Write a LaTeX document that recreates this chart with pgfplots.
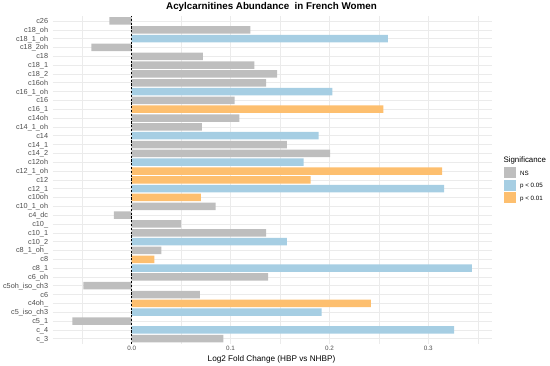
\documentclass[border=0pt]{standalone}
\usepackage{pgfplots}
\pgfplotsset{compat=1.18}
\usepackage{fontspec}
\setmainfont{Liberation Sans}
\definecolor{nsgray}{HTML}{BEBEBE}
\definecolor{pblue}{HTML}{A6CEE3}
\definecolor{porange}{HTML}{FDBF6F}
\definecolor{gridc}{HTML}{EBEBEB}
\definecolor{txtgray}{HTML}{4D4D4D}
\begin{document}
\begin{tikzpicture}
\path[use as bounding box] (0,0) rectangle (550pt,366pt);
\begin{axis}[
  at={(52.7pt,22pt)}, anchor=south west,
  scale only axis, width=439pt, height=328.3pt,
  xmin=-0.0799, xmax=0.3641, ymin=0.4, ymax=37.6,
  axis line style={draw=none},
  major tick length=0pt, minor tick length=0pt,
  xtick={0,0.1,0.2,0.3}, xticklabels={0.0,0.1,0.2,0.3},
  minor xtick={-0.05,0.05,0.15,0.25,0.35},
  ytick={1,...,37},
  yticklabels={c\_3,c\_4,c5\_1,c5\_iso\_ch3,c4oh\_,c6,c5oh\_iso\_ch3,c6\_oh,c8\_1,c8,c8\_1\_oh\_,c10\_2,c10\_1,c10\_,c4\_dc,c10\_1\_oh,c10oh,c12\_1,c12,c12\_1\_oh,c12oh,c14\_2,c14\_1,c14,c14\_1\_oh,c14oh,c16\_1,c16,c16\_1\_oh,c16oh,c18\_2,c18\_1,c18,c18\_2oh,c18\_1\_oh,c18\_oh,c26},
  xmajorgrids, ymajorgrids, xminorgrids,
  major grid style={gridc, line width=0.55pt},
  minor grid style={gridc, line width=0.3pt},
  yticklabel style={font=\fontsize{7.3}{8}\selectfont, text=txtgray, anchor=base east, inner sep=0pt, xshift=-4.4pt, yshift=-2.5pt},
  xticklabel style={font=\fontsize{6.3}{7}\selectfont, text=txtgray, anchor=base, inner sep=0pt, yshift=-6.75pt},
]
% NS
\addplot[xbar, bar width=0.85, bar shift=0pt, fill=nsgray, draw=none] coordinates {
(-0.0225,37) (0.120,36) (-0.0407,34) (0.072,33) (0.124,32) (0.147,31) (0.136,30)
(0.104,28) (0.109,26) (0.071,25) (0.157,23) (0.2006,22) (0.085,16) (-0.018,15)
(0.050,14) (0.136,13) (0.030,11) (0.138,8) (-0.049,7) (0.069,6) (-0.060,3) (0.0926,1)
};
% p < 0.05
\addplot[xbar, bar width=0.85, bar shift=0pt, fill=pblue, draw=none] coordinates {
(0.259,35) (0.203,29) (0.189,24) (0.174,21) (0.316,18) (0.157,12) (0.344,9) (0.192,4) (0.326,2)
};
% p < 0.01
\addplot[xbar, bar width=0.85, bar shift=0pt, fill=porange, draw=none] coordinates {
(0.2545,27) (0.314,20) (0.181,19) (0.070,17) (0.023,10) (0.242,5)
};
\addplot[black, line width=0.6pt, dash pattern=on 2.2pt off 1.6pt] coordinates {(0,0.4) (0,37.6)};
\end{axis}
\node[anchor=base, font=\bfseries\fontsize{9.8}{11}\selectfont, inner sep=0pt] at (271.5pt,356pt) {Acylcarnitines Abundance\ \ in French Women};
\node[anchor=base, font=\fontsize{8.2}{9}\selectfont, inner sep=0pt] at (271.5pt,4.8pt) {Log2 Fold Change (HBP vs NHBP)};
% legend
\node[anchor=base west, font=\fontsize{7.9}{9}\selectfont, inner sep=0pt] at (503.3pt,203.9pt) {Significance};
\fill[nsgray] (503.5pt,187.5pt) rectangle (515.5pt,198.5pt);
\fill[pblue] (503.5pt,175pt) rectangle (515.5pt,186pt);
\fill[porange] (503.5pt,162.5pt) rectangle (515.5pt,173.5pt);
\node[anchor=base west, font=\fontsize{6.2}{7}\selectfont, inner sep=0pt] at (520pt,190.8pt) {NS};
\node[anchor=base west, font=\fontsize{6.2}{7}\selectfont, inner sep=0pt] at (520pt,178.3pt) {p < 0.05};
\node[anchor=base west, font=\fontsize{6.2}{7}\selectfont, inner sep=0pt] at (520pt,165.8pt) {p < 0.01};
\end{tikzpicture}
\end{document}
